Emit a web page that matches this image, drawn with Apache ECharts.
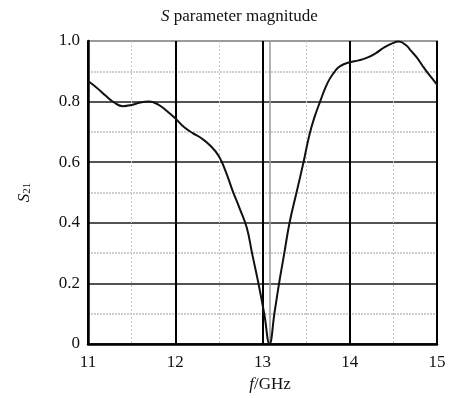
<!DOCTYPE html>
<html>
<head>
<meta charset="utf-8">
<script src="https://cdn.jsdelivr.net/npm/echarts@6/dist/echarts.min.js"></script>
<style>
	html, body { margin: 0; padding: 0; background: #fff; }
	#chart { width: 449px; height: 398px; }
</style>
</head>
<body>
<div id="chart"></div>
<script>
// frequency (GHz) and |S21|
var freq = [11.0, 11.1, 11.2, 11.3, 11.4, 11.5, 11.6, 11.7, 11.8, 11.9,
	12.0, 12.1, 12.2, 12.3, 12.4, 12.5, 12.58, 12.66, 12.74, 12.82,
	12.88, 12.95, 13.02, 13.08, 13.14, 13.19, 13.25, 13.31, 13.39, 13.47,
	13.54, 13.6, 13.66, 13.72, 13.77, 13.83, 13.89, 14.0, 14.1, 14.2,
	14.3, 14.4, 14.5, 14.56, 14.65, 14.7, 14.77, 14.83, 14.88, 14.94, 15.0];
var s21 = [0.868, 0.846, 0.82, 0.797, 0.785, 0.789, 0.797, 0.8, 0.791, 0.77,
	0.745, 0.716, 0.696, 0.679, 0.655, 0.62, 0.568, 0.504, 0.446, 0.384,
	0.30, 0.205, 0.1, 0.0, 0.108, 0.2, 0.30, 0.40, 0.50, 0.6,
	0.693, 0.752, 0.80, 0.845, 0.875, 0.90, 0.917, 0.93, 0.936, 0.945,
	0.96, 0.98, 0.994, 0.998, 0.985, 0.968, 0.945, 0.92, 0.90, 0.878, 0.856];

// resonance marker (grey vertical line)
var notchFreq = 13.08;

// axis ticks
var xTicks = { min: 11, max: 15, step: 1 };
var yTicks = { min: 0, max: 1, step: 0.2 };

var serif = "'Liberation Serif', 'DejaVu Serif', serif";

var chart = echarts.init(document.getElementById('chart'));

var points = [];
for(var i = 0; i < freq.length; i++) {
	points.push([freq[i], s21[i]]);
}

var option = {
	backgroundColor: '#fff',
	animation: false,
	title: {
		text: '{i|S} parameter magnitude',
		left: 161,
		top: 8,
		padding: 0,
		textStyle: {
			fontFamily: serif,
			fontSize: 17,
			fontWeight: 'normal',
			color: '#111',
			rich: {
				i: { fontFamily: serif, fontSize: 17, fontStyle: 'italic', color: '#111' }
			}
		}
	},
	grid: {
		left: 88,
		right: 12,
		top: 41,
		bottom: 50,
		show: true,
		borderColor: '#9a9a9a',
		borderWidth: 2
	},
	xAxis: {
		type: 'value',
		min: xTicks.min,
		max: xTicks.max,
		interval: xTicks.step,
		name: '{i|f}/GHz',
		nameLocation: 'middle',
		nameGap: 32,
		nameTextStyle: {
			fontFamily: serif,
			fontSize: 17,
			color: '#111',
			padding: [0, 0, 0, 15],
			rich: {
				i: { fontFamily: serif, fontSize: 17, fontStyle: 'italic', color: '#111' }
			}
		},
		axisLine: { show: true, onZero: false, lineStyle: { color: '#000', width: 2.5 } },
		axisTick: { show: false },
		axisLabel: {
			margin: 10,
			fontFamily: serif,
			fontSize: 17,
			color: '#111'
		},
		splitLine: { show: true, lineStyle: { color: '#000', width: 2 } },
		minorTick: { show: false, splitNumber: 2 },
		minorSplitLine: { show: true, lineStyle: { color: '#c4c4c4', width: 1, type: [2, 2] } }
	},
	yAxis: {
		type: 'value',
		min: yTicks.min,
		max: yTicks.max,
		interval: yTicks.step,
		name: '{i|S}{sub|21}',
		nameLocation: 'middle',
		nameGap: 55,
		nameTextStyle: {
			fontFamily: serif,
			color: '#111',
			rich: {
				i: { fontFamily: serif, fontSize: 17, fontStyle: 'italic', color: '#111', lineHeight: 22, verticalAlign: 'bottom' },
				sub: { fontFamily: serif, fontSize: 11, color: '#111', lineHeight: 16, verticalAlign: 'bottom', padding: [6, 0, 0, 0] }
			}
		},
		axisLine: { show: true, lineStyle: { color: '#000', width: 2.5 } },
		axisTick: { show: false },
		axisLabel: {
			margin: 8,
			fontFamily: serif,
			fontSize: 17,
			color: '#111',
			formatter: function(v) {
				return v === 0 ? '0' : v.toFixed(1);
			}
		},
		splitLine: { show: true, showMaxLine: false, lineStyle: { color: '#1a1a1a', width: 1.6 } },
		minorTick: { show: false, splitNumber: 2 },
		minorSplitLine: { show: true, lineStyle: { color: '#cfcfcf', width: 2, type: [2, 1] } }
	},
	series: [{
		type: 'line',
		data: points,
		smooth: 0.45,
		showSymbol: false,
		lineStyle: { color: '#111', width: 2 },
		markLine: {
			silent: true,
			symbol: ['none', 'none'],
			label: { show: false },
			lineStyle: { color: '#9a9a9a', width: 1.5, type: 'solid' },
			data: [{ xAxis: notchFreq }]
		},
		z: 5
	}]
};

chart.setOption(option);
</script>
</body>
</html>
